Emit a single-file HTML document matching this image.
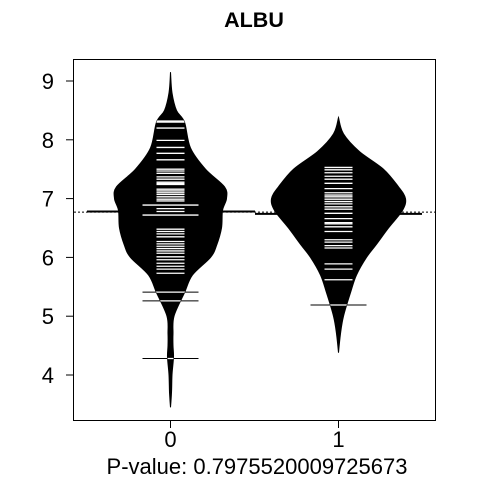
<!DOCTYPE html>
<html><head><meta charset="utf-8"><style>
body{margin:0;background:#fff}
svg text{font-family:"Liberation Sans",Arial,sans-serif}
</style></head><body>
<svg id="chart" width="480" height="480" viewBox="0 0 480 480" xmlns="http://www.w3.org/2000/svg">
<rect width="480" height="480" fill="#fff"/>
<defs id="defs"></defs>
<text x="254" y="27" text-anchor="middle" font-size="21.5" font-weight="bold">ALBU</text>
<g id="plot"></g>
<rect x="73.5" y="59.5" width="362" height="361" fill="none" stroke="#000" stroke-width="1"/>
<text x="257" y="474" text-anchor="middle" font-size="22">P-value: 0.7975520009725673</text>
</svg>
<script>
const categories = ["0", "1"];
const yTicks = [4, 5, 6, 7, 8, 9];
const overallMean = 6.77;
const groupMeans = [6.78, 6.74];
const densY0 = [9.15, 8.8, 8.5, 8.3, 7.86, 7.5, 7.2, 7.0, 6.8, 6.5, 6.2, 6.0, 5.7, 5.4, 5.0, 4.7, 4.5, 4.3, 4.0, 3.7, 3.45];
const densW0 = [0, 1.5, 6, 14, 20, 35, 54, 56, 52, 51, 46, 40, 22, 14, 3.5, 2.5, 2.5, 3, 1.5, 1, 0];
const densY1 = [8.38, 8.1, 7.8, 7.5, 7.2, 7.0, 6.8, 6.5, 6.2, 6.0, 5.7, 5.4, 5.0, 4.7, 4.38];
const densW1 = [0, 5, 21, 45, 60, 67, 64, 50, 37, 28, 18, 12, 5, 2, 0];
const points0 = [8.32, 8.30, 8.20, 7.99, 7.87, 7.77, 7.66, 7.50, 7.47, 7.43, 7.37, 7.33, 7.28, 7.26, 7.24, 7.16, 7.13, 7.10, 7.07, 7.03, 6.99, 6.96, 6.83, 6.78, 6.48, 6.44, 6.40, 6.35, 6.27, 6.23, 6.19, 6.15, 6.11, 6.07, 6.01, 5.96, 5.90, 5.85, 5.80, 5.73];
const long0 = [6.89, 6.72, 5.41, 5.26, 4.28];
const points1 = [7.53, 7.49, 7.44, 7.38, 7.33, 7.26, 7.17, 7.10, 7.06, 7.03, 6.99, 6.95, 6.91, 6.86, 6.82, 6.75, 6.66, 6.59, 6.57, 6.52, 6.44, 6.30, 6.26, 6.20, 6.16, 5.89, 5.80, 5.62];
const long1 = [5.19];

const NS = "http://www.w3.org/2000/svg";
const plot = document.getElementById("plot");
const svg = document.getElementById("chart");
const defs = document.getElementById("defs");
const yScale = v => 81 + (9 - v) * 58.8;
const xScale = i => [170.5, 338.5][i];
function mk(tag, attrs, parent) {
  const e = document.createElementNS(NS, tag);
  for (const k in attrs) e.setAttribute(k, attrs[k]);
  (parent || plot).appendChild(e);
  return e;
}
function smooth(p) {
  let d = "M" + p[0][0].toFixed(1) + "," + p[0][1].toFixed(1);
  for (let i = 0; i < p.length - 1; i++) {
    const p0 = p[Math.max(0, i - 1)], p1 = p[i], p2 = p[i + 1], p3 = p[Math.min(p.length - 1, i + 2)];
    const c1 = [p1[0] + (p2[0] - p0[0]) / 6, p1[1] + (p2[1] - p0[1]) / 6];
    const c2 = [p2[0] - (p3[0] - p1[0]) / 6, p2[1] - (p3[1] - p1[1]) / 6];
    d += "C" + c1.map(n => n.toFixed(1)).join(",") + " " + c2.map(n => n.toFixed(1)).join(",") + " " + p2.map(n => n.toFixed(1)).join(",");
  }
  return d;
}
let ol = mk("line", {x1: 74, x2: 435, y1: yScale(overallMean), y2: yScale(overallMean), stroke: "#000", "stroke-width": 1, "stroke-dasharray": "2,2"});


const dens = [[densY0, densW0], [densY1, densW1]];
const pts = [points0, points1];
const longs = [long0, long1];
categories.forEach((c, i) => {
  const cx = xScale(i);
  const [dy, dw] = dens[i];
  const right = dy.map((v, k) => [cx + dw[k], yScale(v)]);
  const left = dy.map((v, k) => [cx - dw[k], yScale(v)]).reverse();
  const d = smooth(right) + "L" + smooth(left).slice(1) + "Z";
  const cp = mk("clipPath", {id: "clip" + i}, defs);
  mk("path", {d: d}, cp);
  const gm = mk("line", {x1: i === 0 ? 87 : 255, x2: i === 0 ? 255 : 422, y1: yScale(groupMeans[i]), y2: yScale(groupMeans[i]), stroke: "#000", "stroke-width": 2});
  
  
  longs[i].forEach(v => {
    const l2 = mk("line", {x1: cx - 28, x2: cx + 28, y1: yScale(v), y2: yScale(v), stroke: "#000", "stroke-width": 1});
    
    
  });
  const bean = mk("path", {d: d, fill: "#000", stroke: "#000", "stroke-width": 1});
  
  
  const g = mk("g", {"clip-path": "url(#clip" + i + ")"});
  pts[i].forEach(v => {
    const l = mk("line", {x1: cx - 14, x2: cx + 14, y1: yScale(v), y2: yScale(v), stroke: "#fff", "stroke-width": 1.3}, g);
    
    
  });
  longs[i].forEach(v => {
    const l = mk("line", {x1: cx - 28, x2: cx + 28, y1: yScale(v), y2: yScale(v), stroke: "#fff", "stroke-width": 1.3}, g);
    
    
  });
  const t = mk("line", {x1: cx, x2: cx, y1: 421, y2: 428, stroke: "#000"}, svg);
  
  
  const tl = mk("text", {x: cx, y: 447, "text-anchor": "middle", "font-size": 22}, svg);
  tl.textContent = c;
  
  
});
yTicks.forEach(v => {
  const t = mk("line", {x1: 66, x2: 73, y1: yScale(v), y2: yScale(v), stroke: "#000"}, svg);
  
  
  const tl = mk("text", {x: 54, y: yScale(v) + 8, "text-anchor": "end", "font-size": 22}, svg);
  tl.textContent = v;
  
  
});
</script>
</body></html>
